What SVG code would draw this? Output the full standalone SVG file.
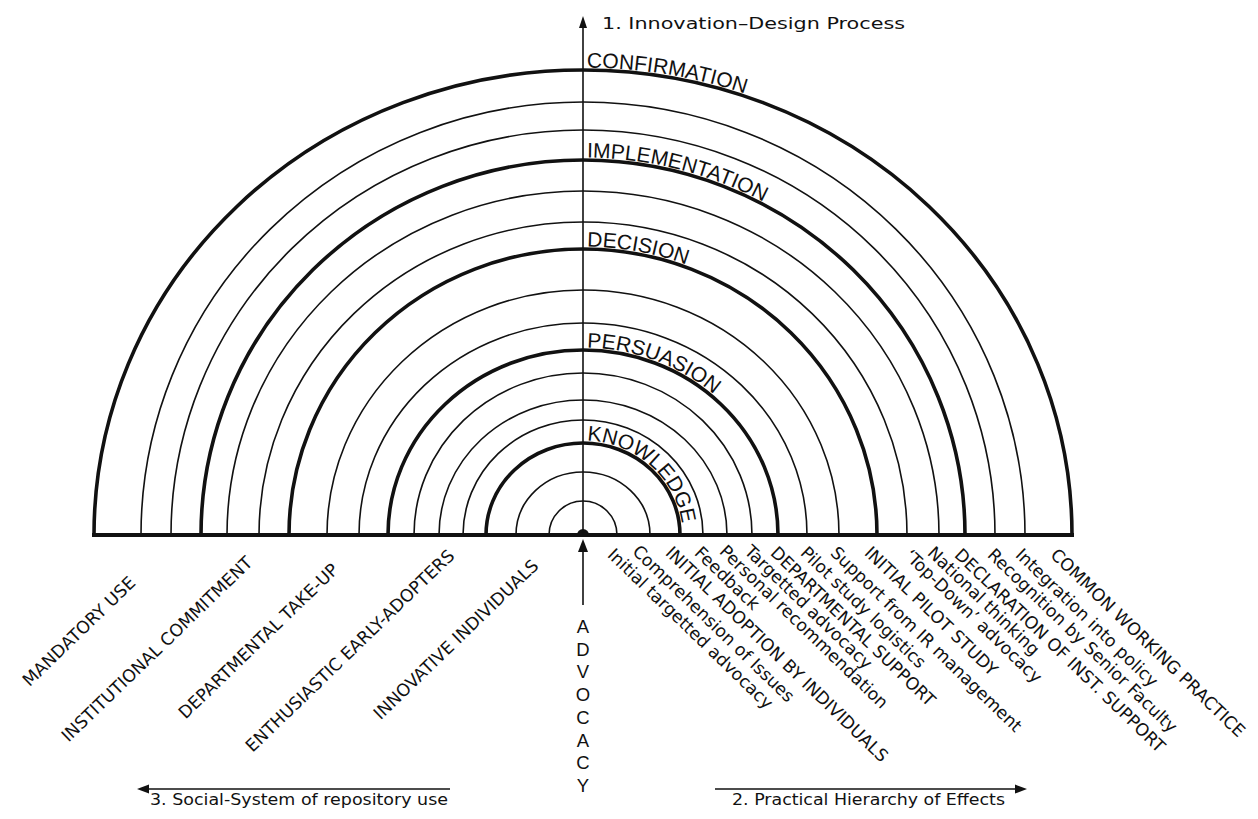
<svg xmlns="http://www.w3.org/2000/svg" width="1258" height="819" viewBox="0 0 1258 819">
<style>
.thin{fill:none;stroke:#111;stroke-width:1.6}
.thick{fill:none;stroke:#111;stroke-width:3.6}
.axis{stroke:#111;stroke-width:1.6;fill:none}
.arclbl{font-family:"Liberation Sans",Arial,sans-serif;font-size:21px;fill:#111}
.lbl{font-family:"DejaVu Sans","Liberation Sans",sans-serif;font-size:17.3px;fill:#111}
.cap{font-family:"DejaVu Sans","Liberation Sans",sans-serif;font-size:16px;fill:#111}
.adv{font-family:"Liberation Sans",Arial,sans-serif;font-size:18.5px;fill:#111}
.head{fill:#111}
</style>
<defs>
<path id="tpK" d="M583 440.5 A99.5 94.5 0 0 1 682.5 535"/>
<path id="tpP" d="M583 347.5 A197.5 187.5 0 0 1 780.5 535"/>
<path id="tpD" d="M583 246.5 A296.5 288.5 0 0 1 879.5 535"/>
<path id="tpI" d="M583 157.5 A384.5 377.5 0 0 1 967.5 535"/>
<path id="tpC" d="M583 67.5 A491.5 467.5 0 0 1 1074.5 535"/>
</defs>
<rect width="1258" height="819" fill="#fff"/>

<g id="arcs">
<path class="thin" d="M549 535 A34 34 0 0 1 617 535"/>
<path class="thin" d="M516 535 A67 63 0 0 1 650 535"/>
<path class="thick" d="M486 535 A97 92 0 0 1 680 535"/>
<path class="thin" d="M463 535 A120 115 0 0 1 703 535"/>
<path class="thin" d="M439 535 A144 135 0 0 1 727 535"/>
<path class="thin" d="M414 535 A169 162 0 0 1 752 535"/>
<path class="thick" d="M388 535 A195 185 0 0 1 778 535"/>
<path class="thin" d="M359 535 A224 212 0 0 1 807 535"/>
<path class="thin" d="M327 535 A256 245 0 0 1 839 535"/>
<path class="thick" d="M289 535 A294 286 0 0 1 877 535"/>
<path class="thin" d="M259 535 A324 313 0 0 1 907 535"/>
<path class="thin" d="M227 535 A356 344 0 0 1 939 535"/>
<path class="thick" d="M201 535 A382 375 0 0 1 965 535"/>
<path class="thin" d="M171 535 A412 405 0 0 1 995 535"/>
<path class="thin" d="M141 535 A442 433 0 0 1 1025 535"/>
<path class="thick" d="M94 535 A489 465 0 0 1 1072 535"/>
</g>

<g id="stage-labels">
<text class="arclbl"><textPath href="#tpK" startOffset="4">KNOWLEDGE</textPath></text>
<text class="arclbl"><textPath href="#tpP" startOffset="4">PERSUASION</textPath></text>
<text class="arclbl"><textPath href="#tpD" startOffset="4">DECISION</textPath></text>
<text class="arclbl"><textPath href="#tpI" startOffset="4">IMPLEMENTATION</textPath></text>
<text class="arclbl"><textPath href="#tpC" startOffset="4">CONFIRMATION</textPath></text>
</g>

<g id="connectors">
<line x1="92" y1="535" x2="1074" y2="535" stroke="#111" stroke-width="4"/>
<path d="M577 535 A6 6 0 0 1 589 535 Z" fill="#111"/>
<line class="axis" x1="583" y1="535" x2="583" y2="26"/>
<polygon class="head" points="583,16 579,28 587,28"/>
<line class="axis" x1="583" y1="605" x2="583" y2="550"/>
<polygon class="head" points="583,539 578,552 588,552"/>
<line class="axis" x1="450" y1="789" x2="146" y2="789"/>
<polygon class="head" points="137,789 149,784.5 149,793.5"/>
<line class="axis" x1="715" y1="789" x2="1018" y2="789"/>
<polygon class="head" points="1027,789 1015,784.5 1015,793.5"/>
</g>

<g id="axis-titles">
<text class="cap" x="602" y="29" font-size="17" textLength="303" lengthAdjust="spacingAndGlyphs">1. Innovation–Design Process</text>
<text class="cap" x="150" y="805" textLength="298" lengthAdjust="spacingAndGlyphs">3. Social-System of repository use</text>
<text class="cap" x="732" y="805" textLength="273" lengthAdjust="spacingAndGlyphs">2. Practical Hierarchy of Effects</text>
</g>

<g id="advocacy" class="adv" text-anchor="middle">
<text x="583" y="633">A</text>
<text x="583" y="655.5">D</text>
<text x="583" y="678">V</text>
<text x="583" y="700.5">O</text>
<text x="583" y="724">C</text>
<text x="583" y="746.5">A</text>
<text x="583" y="768.5">C</text>
<text x="583" y="792">Y</text>
</g>

<g id="effects-labels" class="lbl">
<text transform="translate(606.4,555.9) rotate(44)">Initial targetted advocacy</text>
<text transform="translate(631.4,552.5) rotate(44)">Comprehension of Issues</text>
<text transform="translate(664.4,553.9) rotate(44)">INITIAL ADOPTION BY INDIVIDUALS</text>
<text transform="translate(693.4,553.9) rotate(44)">Feedback</text>
<text transform="translate(718.4,552.5) rotate(44)">Personal recommendation</text>
<text transform="translate(743.4,552.5) rotate(44)">Targetted advocacy</text>
<text transform="translate(769.4,553.9) rotate(44)">DEPARTMENTAL SUPPORT</text>
<text transform="translate(799.4,553.9) rotate(44)">Pilot study logistics</text>
<text transform="translate(829.4,553.9) rotate(44)">Support from IR management</text>
<text transform="translate(863.4,553.9) rotate(44)">INITIAL PILOT STUDY</text>
<text transform="translate(903.4,556.9) rotate(44)">‘Top-Down’ advocacy</text>
<text transform="translate(926.4,553.9) rotate(44)">National thinking</text>
<text transform="translate(953.4,555.9) rotate(44)">DECLARATION OF INST. SUPPORT</text>
<text transform="translate(986.4,555.9) rotate(44)">Recognition by Senior Faculty</text>
<text transform="translate(1014.4,555.9) rotate(44)">Integration into policy</text>
<text transform="translate(1049.4,555.9) rotate(44)">COMMON WORKING PRACTICE</text>
</g>

<g id="social-labels" class="lbl" text-anchor="end">
<text transform="translate(136.6,584) rotate(-44)">MANDATORY USE</text>
<text transform="translate(253.6,564) rotate(-44)">INSTITUTIONAL COMMITMENT</text>
<text transform="translate(339.6,571) rotate(-44)">DEPARTMENTAL TAKE-UP</text>
<text transform="translate(455.6,557) rotate(-44)">ENTHUSIASTIC EARLY-ADOPTERS</text>
<text transform="translate(539.6,567) rotate(-44)">INNOVATIVE INDIVIDUALS</text>
</g>
</svg>
